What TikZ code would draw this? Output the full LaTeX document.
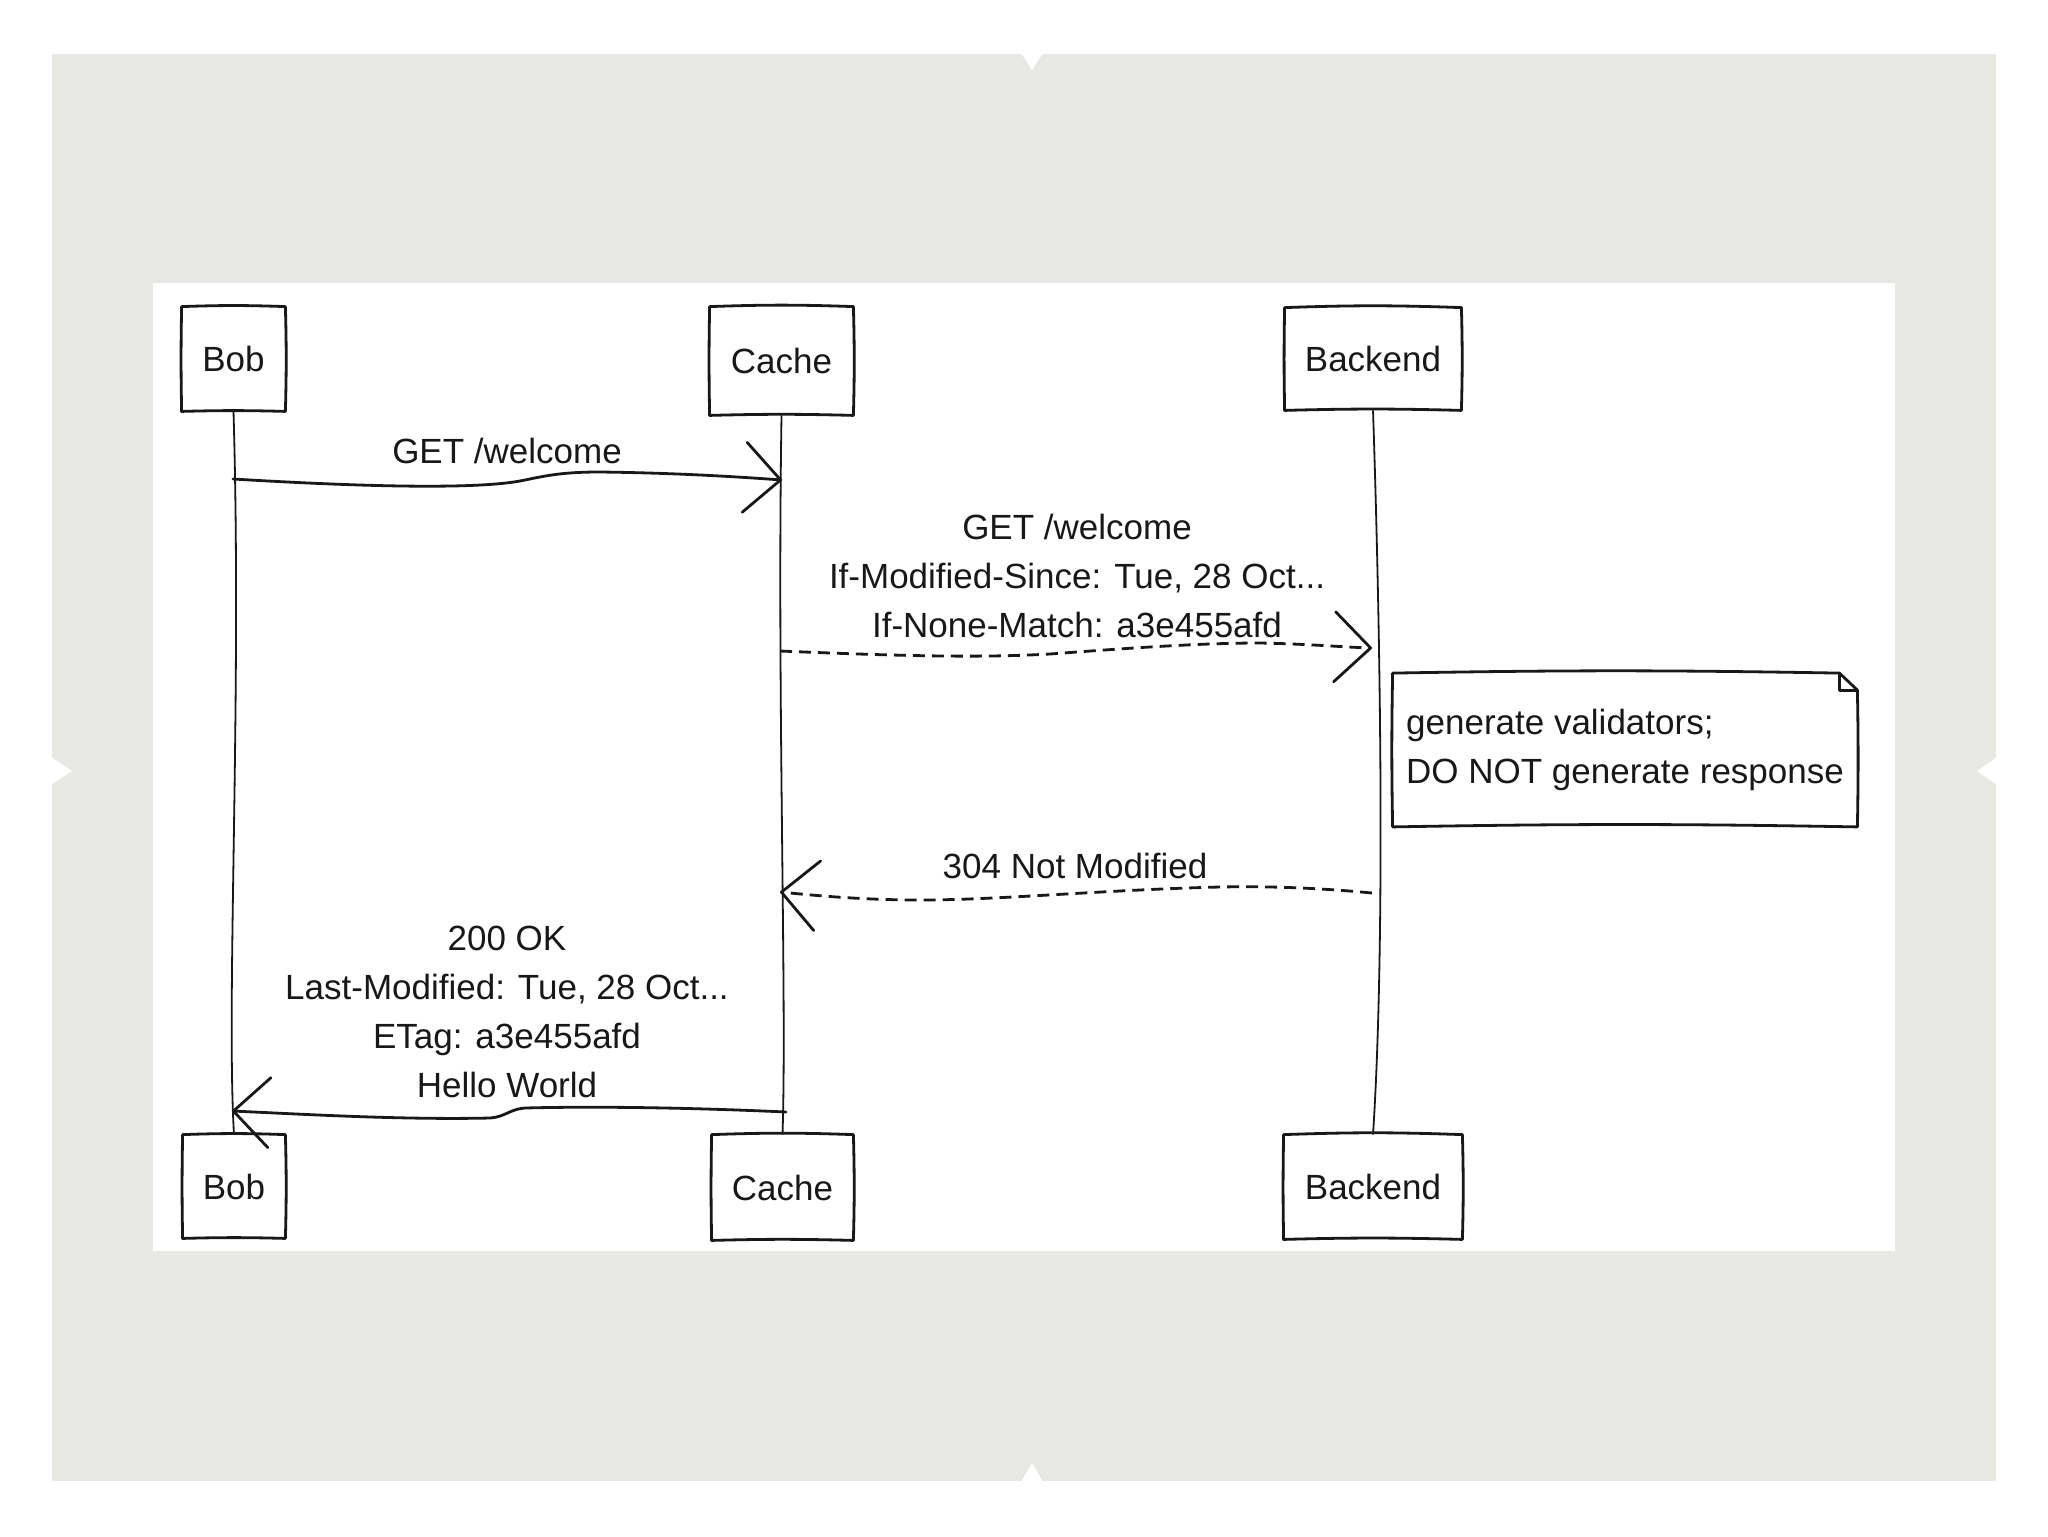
\documentclass[tikz,border=0pt]{standalone}
\usepackage{fontspec}
\setmainfont{Liberation Sans}
\usetikzlibrary{arrows.meta,calc}
\definecolor{frame}{RGB}{231,232,227}
\definecolor{ink}{RGB}{24,24,24}
\newcommand\handbox[1]{%
  \draw[boxline] (#1.north west) to[bend left=2] (#1.north east)
    to[bend left=1.5] (#1.south east) to[bend right=1.5] (#1.south west)
    to[bend left=1] (#1.north west) -- cycle;}
\begin{document}
\begin{tikzpicture}[x=0.5pt,y=-0.5pt,
  every node/.style={font=\fontsize{17.5}{24.5}\selectfont, text=ink},
  actor/.style={inner sep=0pt, fill=white},
  boxline/.style={draw=ink, line width=1.4pt, line join=round},
  life/.style={draw=ink, line width=0.9pt},
  msg/.style={draw=ink, line width=1.4pt, line cap=round,
    -{Straight Barb[length=18pt,width=35pt,round]}},
  reply/.style={msg, line cap=butt, dash pattern=on 6pt off 3.5pt},
  lbl/.style={align=center, inner sep=0pt},
]
\useasboundingbox (0,0) rectangle (2048,1536);
% page and frame
\fill[white] (0,0) rectangle (2048,1536);
\fill[frame] (52,54) rectangle (1996,1481);
\fill[white] (1021,53) -- (1032,70) -- (1043,53) -- cycle;
\fill[white] (1021,1482) -- (1032,1463) -- (1043,1482) -- cycle;
\fill[white] (51,757) -- (72,771) -- (51,785) -- cycle;
\fill[white] (1997,757) -- (1977,771) -- (1997,785) -- cycle;
\fill[white] (153,283) rectangle (1895,1251);

% participants
\node[actor, minimum width=51.5pt, minimum height=52pt] (bobT) at (233.5,359) {Bob};
\node[actor, minimum width=71.5pt, minimum height=54pt] (cacheT) at (781.5,361) {Cache};
\node[actor, minimum width=88pt, minimum height=51pt] (backT) at (1373,359) {Backend};
\node[actor, minimum width=51pt, minimum height=51.5pt] (bobB) at (234,1186.5) {Bob};
\node[actor, minimum width=70.5pt, minimum height=52.5pt] (cacheB) at (782.5,1187.5) {Cache};
\node[actor, minimum width=89pt, minimum height=52pt] (backB) at (1373,1187) {Backend};
\handbox{bobT}\handbox{cacheT}\handbox{backT}
\handbox{bobB}\handbox{cacheB}\handbox{backB}

% lifelines
\draw[life] (bobT.south) .. controls (242,700) and (226,1000) .. (bobB.north);
\draw[life] (cacheT.south) .. controls (777,700) and (787,1000) .. (cacheB.north);
\draw[life] (backT.south) .. controls (1381,650) and (1385,950) .. (backB.north);

% message end points on the lifelines
\coordinate (m1s) at (233,479);
\coordinate (m1e) at (782,480);
\coordinate (m2s) at (780,651);
\coordinate (m2e) at (1372,648);
\coordinate (m3s) at (1372,893);
\coordinate (m3e) at (780,892);
\coordinate (m4s) at (786,1112);
\coordinate (m4e) at (232,1111);

% messages
\draw[msg] (m1s) .. controls (350,486) and (470,490) .. (520,481)
  .. controls (545,476) and (560,472) .. (600,472)
  .. controls (680,473) and (740,477) .. (m1e);
\draw[reply] (m2s) .. controls (900,656) and (980,658) .. (1050,654)
  .. controls (1130,648) and (1200,643) .. (1260,643)
  .. controls (1310,644) and (1340,647) .. (m2e);
\draw[reply] (m3s) .. controls (1320,888) and (1270,886) .. (1220,887)
  .. controls (1100,890) and (1000,900) .. (920,900)
  .. controls (860,900) and (810,895) .. (m3e);
\draw[msg] (m4s) .. controls (700,1108) and (600,1106) .. (525,1108)
  .. controls (510,1109) and (505,1117) .. (490,1118)
  .. controls (400,1120) and (300,1114) .. (m4e);

% labels
\node[lbl] (l1) at (507,451) {GET /welcome};
\node[lbl] (l2) at (1077,576) {GET /welcome\\If-Modified-Since: Tue, 28 Oct...\\If-None-Match: a3e455afd};
\node[lbl] (l3) at (1075,866) {304 Not Modified};
\node[lbl] (l4) at (507,1012) {200 OK\\Last-Modified: Tue, 28 Oct...\\ETag: a3e455afd\\Hello World};

% note
\node[inner sep=0pt, minimum width=232pt, minimum height=76.5pt, align=left] (note) at (1625,750)
  {generate validators;\\DO NOT generate response};
\draw[boxline] (note.north west) to[bend left=1] ($(note.north east)+(-18,0)$)
  -- ($(note.north east)+(0,17)$) to[bend left=1] (note.south east)
  to[bend right=1] (note.south west) to[bend left=1] (note.north west) -- cycle;
\draw[boxline] ($(note.north east)+(-18,0)$) -- ++(0,17) -- ($(note.north east)+(0,17)$);
\end{tikzpicture}
\end{document}
